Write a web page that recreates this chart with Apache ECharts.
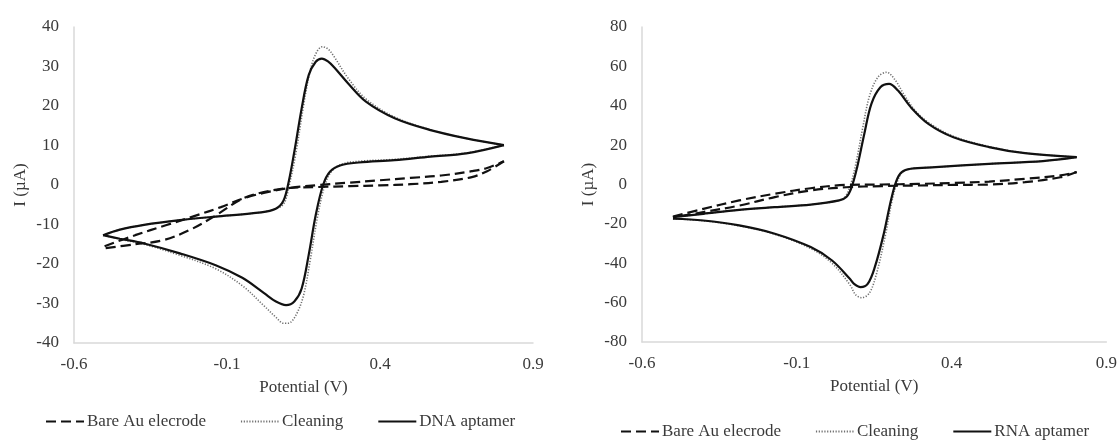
<!DOCTYPE html>
<html>
<head>
<meta charset="utf-8">
<script src="https://cdn.jsdelivr.net/npm/echarts@6/dist/echarts.min.js"></script>
<style>
html,body{margin:0;padding:0;background:#fff;}
#c{width:1120px;height:440px;}
</style>
</head>
<body>
<div id="c"></div>
<script>
// ---------- tick labels ----------
const xTicks = [-0.6, -0.1, 0.4, 0.9];
const xAxisTitle = 'Potential (V)';
const yAxisTitle = 'I (µA)';
const leftNames = ['Bare Au elecrode', 'Cleaning', 'DNA aptamer'];
const rightNames = ['Bare Au elecrode', 'Cleaning', 'RNA aptamer'];

// ---------- LEFT: DNA aptamer (solid) ----------
const dnaFwdE = [-0.505,-0.45,-0.371,-0.254,-0.137,-0.02,0.05,0.08,0.097,0.12,0.144,0.167,0.19,0.21,0.23,0.25,0.296,0.354,0.448,0.565,0.682,0.805];
const dnaFwdI = [-12.7,-11.3,-10.1,-8.9,-8.0,-7.2,-6.3,-4.6,-0.8,8.4,19.4,27.8,31.2,32.0,31.3,29.8,25.7,21.1,16.9,13.9,11.8,10.1];
const dnaRevE = [0.805,0.682,0.565,0.448,0.331,0.272,0.237,0.214,0.19,0.167,0.144,0.12,0.093,0.06,0.02,-0.05,-0.137,-0.254,-0.371,-0.45,-0.505];
const dnaRevI = [10.1,8.0,7.2,6.3,5.7,5.0,3.4,0.0,-7.6,-17.7,-26.2,-29.5,-30.4,-29.5,-27.3,-23.5,-20.3,-17.3,-14.8,-13.6,-12.7];

// ---------- LEFT: Cleaning (dotted) ----------
const clnLFwdE = [-0.505,-0.45,-0.371,-0.254,-0.137,-0.02,0.05,0.085,0.102,0.125,0.15,0.172,0.192,0.212,0.232,0.25,0.296,0.354,0.448,0.565,0.682,0.805];
const clnLFwdI = [-12.7,-11.3,-10.1,-8.9,-8.0,-7.2,-6.3,-4.8,-0.5,8.0,20.0,29.0,33.5,35.0,34.3,32.5,27.0,21.8,17.2,14.0,11.8,10.1];
const clnLRevE = [0.805,0.682,0.565,0.448,0.331,0.275,0.242,0.22,0.196,0.172,0.15,0.125,0.1,0.085,0.06,0.02,-0.05,-0.137,-0.254,-0.371,-0.45,-0.505];
const clnLRevI = [10.1,8.1,7.3,6.5,6.0,5.3,3.5,0.0,-8.0,-19.0,-28.0,-33.0,-35.0,-35.0,-33.5,-30.5,-25.5,-21.2,-17.8,-15.0,-13.7,-12.7];

// ---------- LEFT: Bare Au electrode (dashed) ----------
const bareLFwdE = [-0.5,-0.4,-0.3,-0.2,-0.12,-0.05,0.02,0.1,0.2,0.3,0.4,0.5,0.6,0.7,0.75,0.805];
const bareLFwdI = [-15.5,-12.7,-10.2,-7.7,-5.6,-3.5,-2.0,-0.8,0.0,0.6,1.2,1.8,2.4,3.5,4.3,6.0];
const bareLRevE = [0.805,0.75,0.7,0.6,0.5,0.4,0.3,0.2,0.1,0.02,-0.05,-0.143,-0.225,-0.31,-0.4,-0.5];
const bareLRevI = [6.0,3.5,2.0,0.8,0.2,-0.1,-0.3,-0.5,-0.8,-1.8,-3.5,-8.0,-11.5,-14.0,-15.0,-16.0];

// ---------- RIGHT: RNA aptamer (solid) ----------
const rnaFwdE = [-0.5,-0.402,-0.286,-0.171,-0.055,0.037,0.06,0.077,0.095,0.118,0.141,0.17,0.198,0.227,0.268,0.325,0.406,0.521,0.637,0.804];
const rnaFwdI = [-16.6,-14.9,-12.9,-11.5,-10.2,-8.1,-6.4,-1.4,8.8,25.7,41.0,49.4,51.1,47.7,39.3,30.8,24.0,19.0,15.9,13.9];
const rnaRevE = [0.804,0.695,0.521,0.348,0.268,0.239,0.222,0.204,0.181,0.152,0.129,0.106,0.085,0.072,0.014,-0.055,-0.171,-0.286,-0.402,-0.5];
const rnaRevI = [13.9,11.9,10.5,8.8,8.0,6.3,2.0,-8.1,-25.0,-42.0,-50.5,-52.1,-50.5,-48.0,-38.6,-31.8,-25.0,-20.8,-18.3,-17.4];

// ---------- RIGHT: Cleaning (dotted) ----------
const clnRFwdE = [-0.5,-0.402,-0.286,-0.171,-0.055,0.037,0.055,0.072,0.09,0.112,0.135,0.162,0.19,0.218,0.245,0.28,0.325,0.406,0.521,0.637,0.804];
const clnRFwdI = [-16.6,-14.9,-12.9,-11.5,-10.2,-8.1,-6.5,-1.0,10.0,28.0,45.0,54.5,57.0,53.0,46.0,38.0,31.5,24.5,19.3,16.0,13.9];
const clnRRevE = [0.804,0.695,0.521,0.348,0.268,0.242,0.226,0.208,0.186,0.158,0.135,0.11,0.09,0.072,0.014,-0.055,-0.171,-0.286,-0.402,-0.5];
const clnRRevI = [13.9,11.9,10.5,8.8,8.0,6.3,2.0,-8.0,-26.0,-45.0,-55.0,-57.5,-56.0,-51.0,-40.0,-32.5,-25.3,-21.0,-18.4,-17.4];

// ---------- RIGHT: Bare Au electrode (dashed) ----------
const bareRFwdE = [-0.5,-0.402,-0.286,-0.171,-0.055,0.06,0.175,0.29,0.406,0.521,0.637,0.752,0.804];
const bareRFwdI = [-16.3,-12.4,-8.1,-4.7,-1.9,-0.2,0.0,0.3,0.8,1.5,2.9,4.6,6.3];
const bareRRevE = [0.804,0.752,0.637,0.521,0.406,0.29,0.175,0.06,-0.055,-0.171,-0.286,-0.402,-0.5];
const bareRRevI = [6.3,3.7,1.2,0.0,-0.2,-0.5,-0.8,-1.4,-3.0,-6.4,-10.7,-14.0,-16.8];

// ---------- build ----------
const zip = (xs, ys) => xs.map((x, i) => [x, ys[i]]);
const FONT = 'Liberation Serif';
const TXT = '#3a3a3a';
const AX = '#d9d9d9';

const styles = {
  bare:  { color: '#111', width: 2.2, type: [10, 5] },
  clean: { color: '#707070', width: 1.6, type: [1.2, 1.6] },
  apt:   { color: '#111', width: 2.2, type: 'solid' }
};

function mk(name, style, idx, data) {
  return {
    type: 'line', name: name, xAxisIndex: idx, yAxisIndex: idx,
    data: data, symbol: 'none', showSymbol: false, smooth: 0.35,
    lineStyle: { color: style.color, width: style.width, type: style.type },
    itemStyle: { color: style.color },
    z: style === styles.clean ? 1 : 2,
    animation: false
  };
}

const series = [
  mk(leftNames[0], styles.bare, 0, zip(bareLFwdE, bareLFwdI)),
  mk(leftNames[0], styles.bare, 0, zip(bareLRevE, bareLRevI)),
  mk(leftNames[1], styles.clean, 0, zip(clnLFwdE, clnLFwdI)),
  mk(leftNames[1], styles.clean, 0, zip(clnLRevE, clnLRevI)),
  mk(leftNames[2], styles.apt, 0, zip(dnaFwdE, dnaFwdI)),
  mk(leftNames[2], styles.apt, 0, zip(dnaRevE, dnaRevI)),
  mk(rightNames[0], styles.bare, 1, zip(bareRFwdE, bareRFwdI)),
  mk(rightNames[0], styles.bare, 1, zip(bareRRevE, bareRRevI)),
  mk(rightNames[1], styles.clean, 1, zip(clnRFwdE, clnRFwdI)),
  mk(rightNames[1], styles.clean, 1, zip(clnRRevE, clnRRevI)),
  mk(rightNames[2], styles.apt, 1, zip(rnaFwdE, rnaFwdI)),
  mk(rightNames[2], styles.apt, 1, zip(rnaRevE, rnaRevI))
];

function xAx(idx) {
  return {
    type: 'value', gridIndex: idx, min: -0.6, max: 0.9,
    name: xAxisTitle, nameLocation: 'middle', nameGap: 36,
    nameTextStyle: { fontFamily: FONT, fontSize: 17, color: TXT },
    axisLine: { show: true, onZero: false, lineStyle: { color: AX, width: 1.5 } },
    axisTick: { show: false }, splitLine: { show: false },
    axisLabel: { customValues: xTicks, fontFamily: FONT, fontSize: 17, color: TXT, margin: 13,
      formatter: v => (Math.round(v * 10) / 10).toFixed(1) }
  };
}
function yAx(idx, lim, step) {
  return {
    type: 'value', gridIndex: idx, min: -lim, max: lim, interval: step,
    name: yAxisTitle, nameLocation: 'middle', nameGap: 45, nameRotate: 90,
    nameTextStyle: { fontFamily: FONT, fontSize: 17, color: TXT },
    axisLine: { show: true, onZero: false, lineStyle: { color: AX, width: 1.5 } },
    axisTick: { show: false }, splitLine: { show: false },
    axisLabel: { fontFamily: FONT, fontSize: 17, color: TXT, margin: 15 }
  };
}
function lg(names, left, top) {
  return {
    data: names, left: left, top: top, itemWidth: 38, itemHeight: 14, itemGap: 34,
    selectedMode: false,
    itemStyle: { opacity: 0 },
    textStyle: { fontFamily: FONT, fontSize: 17, color: TXT, padding: [0, 0, 0, -2] }
  };
}

const chart = echarts.init(document.getElementById('c'), null, { renderer: 'canvas' });
chart.setOption({
  animation: false,
  backgroundColor: '#ffffff',
  grid: [
    { left: 74, top: 27, width: 459, height: 316 },
    { left: 642, top: 27, width: 466, height: 315 }
  ],
  xAxis: [xAx(0), xAx(1)],
  yAxis: [yAx(0, 40, 10), yAx(1, 80, 20)],
  legend: [lg(leftNames, 40, 408), lg(rightNames, 615, 418)],
  series: series
});
</script>
</body>
</html>
